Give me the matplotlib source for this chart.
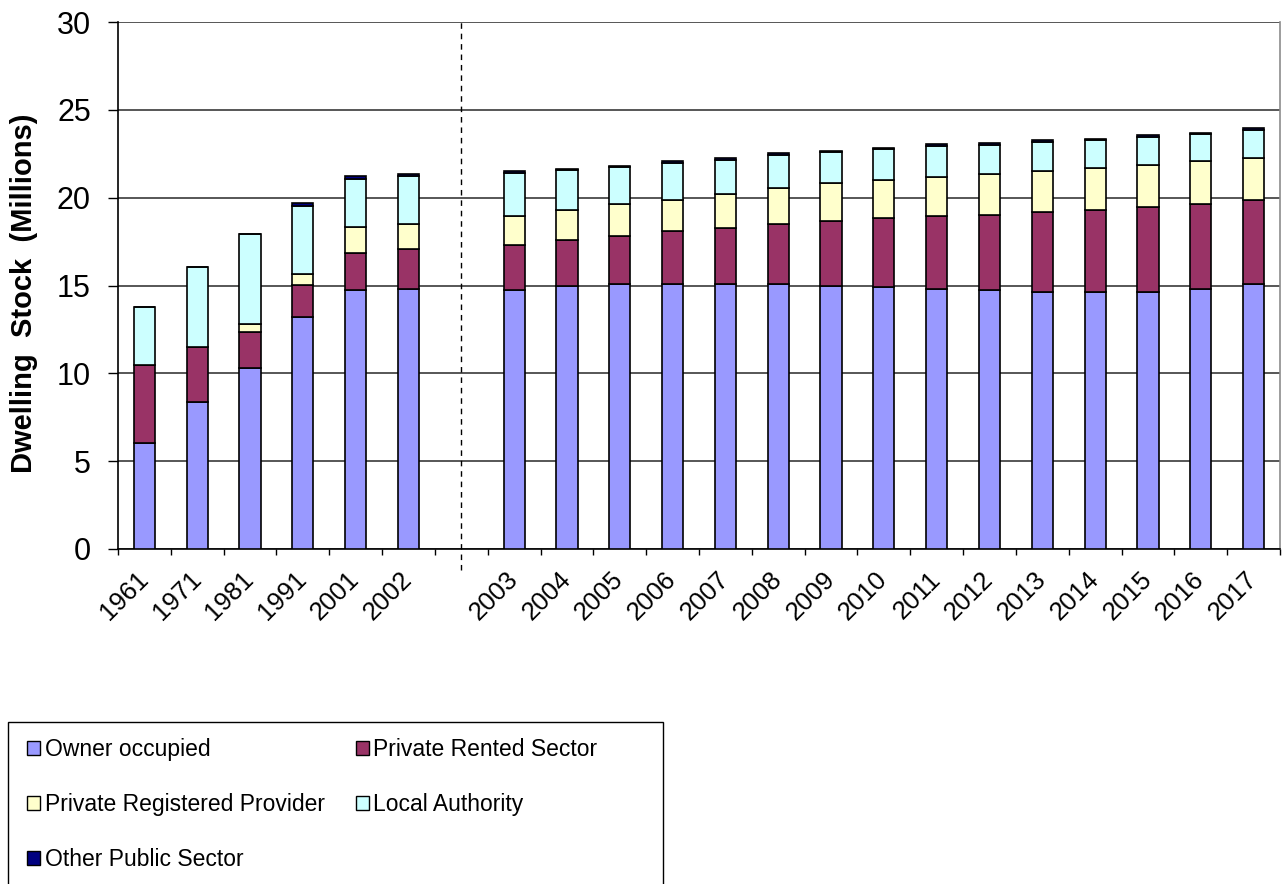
import numpy as np
import matplotlib
matplotlib.use("Agg")
from matplotlib import pyplot as plt
from matplotlib.patches import Patch, Rectangle

plt.rcParams['font.family'] = ['Liberation Sans', 'DejaVu Sans']

# category labels (blank slot between 2002 and 2003)
years = ["1961", "1971", "1981", "1991", "2001", "2002", "",
         "2003", "2004", "2005", "2006", "2007", "2008", "2009", "2010",
         "2011", "2012", "2013", "2014", "2015", "2016", "2017"]

# dwelling stock, millions
owner = [6.05, 8.35, 10.32, 13.20, 14.74, 14.82, 0,
         14.74, 14.99, 15.08, 15.08, 15.08, 15.08, 14.99, 14.91,
         14.82, 14.72, 14.65, 14.65, 14.65, 14.82, 15.08]
private_rented = [4.42, 3.17, 2.01, 1.81, 2.13, 2.24, 0,
                  2.56, 2.58, 2.73, 3.00, 3.17, 3.42, 3.70, 3.95,
                  4.11, 4.29, 4.53, 4.62, 4.80, 4.80, 4.80]
private_reg = [0.00, 0.00, 0.48, 0.62, 1.46, 1.44, 0,
               1.63, 1.70, 1.81, 1.80, 1.97, 2.07, 2.14, 2.12,
               2.22, 2.33, 2.33, 2.40, 2.39, 2.46, 2.37]
local_auth = [3.32, 4.51, 5.10, 3.89, 2.71, 2.71, 0,
              2.47, 2.28, 2.10, 2.09, 1.92, 1.84, 1.75, 1.77,
              1.79, 1.67, 1.65, 1.59, 1.61, 1.52, 1.61]
other_public = [0.00, 0.00, 0.00, 0.19, 0.19, 0.12, 0,
                0.09, 0.10, 0.10, 0.10, 0.11, 0.11, 0.09, 0.09,
                0.09, 0.10, 0.12, 0.09, 0.10, 0.10, 0.10]

series = [
    ("Owner occupied", owner, "#9999FF"),
    ("Private Rented Sector", private_rented, "#993366"),
    ("Private Registered Provider", private_reg, "#FFFFCC"),
    ("Local Authority", local_auth, "#CCFFFF"),
    ("Other Public Sector", other_public, "#000080"),
]

W, H = 1282, 884
fig = plt.figure(figsize=(W / 100, H / 100), dpi=100)
ax = fig.add_axes([118 / W, (H - 549) / H, (1280 - 118) / W, (549 - 22) / H])

x = np.arange(len(years))
mask = np.array([y != "" for y in years])
bottom = np.zeros(len(years))
for name, vals, col in series:
    vals = np.array(vals)
    ax.bar(x[mask], vals[mask], bottom=bottom[mask], width=0.4, color=col,
           edgecolor="black", linewidth=1.2, label=name, zorder=3)
    bottom += vals

ax.set_xlim(-0.5, len(years) - 0.5)
ax.set_ylim(0, 30)
ax.set_yticks(np.arange(0, 31, 5))
ax.yaxis.grid(True, color="#3a3a3a", linewidth=1.2)
ax.set_axisbelow(True)

# separator between census years and annual estimates
ax.axvline(6, ymin=-0.04, ymax=1, color="black", linestyle=(0, (4, 3.5)),
           linewidth=1.0, clip_on=False, zorder=4)

for s in ["left", "bottom"]:
    ax.spines[s].set_color("black")
    ax.spines[s].set_linewidth(1.2)
ax.spines["top"].set_visible(False)
ax.spines["right"].set_color("#8c8c8c")
ax.spines["right"].set_linewidth(1.2)

ax.tick_params(axis="y", direction="out", length=7.5, width=1.0, pad=12,
               labelsize=22)
ax.set_xticks(x[mask])
ax.set_xticklabels([y for y in years if y], rotation=45, ha="right",
                   va="center", rotation_mode="anchor", fontsize=18.5)
ax.tick_params(axis="x", length=0, pad=19)
ax.set_xticks(np.arange(-0.5, len(years), 1), minor=True)
ax.tick_params(axis="x", which="minor", direction="out", length=4.5, width=1.0)

ax.set_ylabel("Dwelling  Stock  (Millions)", fontsize=21, fontweight="bold")
ax.yaxis.set_label_coords(-0.0685, 0.486)

# legend box (cut off by the figure bottom)
fig.patches.append(Rectangle((8 / W, -0.05), (663 - 8) / W, (H - 722) / H + 0.05,
                             transform=fig.transFigure, facecolor="white",
                             edgecolor="black", linewidth=1.0))
handles = {name: Patch(facecolor=col, edgecolor="black", linewidth=1.0)
           for name, _, col in series}
order = ["Owner occupied", "Private Registered Provider", "Other Public Sector",
         "Private Rented Sector", "Local Authority"]
fig.legend([handles[n] for n in order], order, loc="upper left",
           bbox_to_anchor=(27 / W, 1 - 738 / H), ncol=2, frameon=False,
           fontsize=16.5, handlelength=0.57, handleheight=0.57,
           handletextpad=0.2, labelspacing=1.4, columnspacing=1.35,
           borderpad=0, borderaxespad=0)

fig.savefig("out.png", dpi=100)
